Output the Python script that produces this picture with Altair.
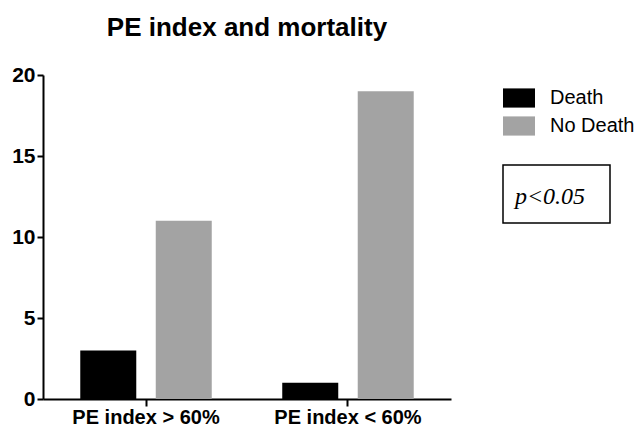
import altair as alt
import pandas as pd

groups = ["PE index > 60%", "PE index < 60%"]
outcomes = ["Death", "No Death"]
death = [3, 1]
no_death = [11, 19]
colors = ["#000000", "#a3a3a3"]
y_ticks = [0, 5, 10, 15, 20]
annotation = ["p<0.05"]

rows = []
for g, d, n in zip(groups, death, no_death):
    rows.append({"group": g, "outcome": outcomes[0], "count": d})
    rows.append({"group": g, "outcome": outcomes[1], "count": n})
df = pd.DataFrame(rows)

SANS = "Liberation Sans, Arial, sans-serif"

bars = alt.Chart(df).mark_bar(strokeWidth=0).encode(
    x=alt.X("group:N", sort=groups, title=None,
            scale=alt.Scale(paddingInner=0, paddingOuter=0.01),
            axis=alt.Axis(labelAngle=0, tickSize=7, tickWidth=2, tickColor="black",
                          domainWidth=2, domainColor="black",
                          labelFont=SANS, labelFontWeight="bold", labelFontSize=20,
                          labelColor="black", labelPadding=1)),
    xOffset=alt.XOffset("outcome:N", sort=outcomes,
                        scale=alt.Scale(paddingInner=0.258, paddingOuter=0.467)),
    y=alt.Y("count:Q", title=None, scale=alt.Scale(domain=[0, 20], nice=False),
            axis=alt.Axis(values=y_ticks, grid=False, tickSize=6, tickWidth=2,
                          tickColor="black", domainWidth=2, domainColor="black",
                          labelFont=SANS, labelFontWeight="bold", labelFontSize=21,
                          labelColor="black", labelPadding=2)),
    color=alt.Color("outcome:N", sort=outcomes,
                    scale=alt.Scale(domain=outcomes, range=colors),
                    legend=alt.Legend(title=None, orient="none", legendX=460, legendY=7,
                                      symbolType="M-1,-0.6H1V0.6H-1Z", symbolSize=1024,
                                      symbolStrokeWidth=0, labelFont=SANS,
                                      labelFontSize=20, labelOffset=15, rowPadding=2,
                                      padding=0, labelColor="black")),
)

ann_df = pd.DataFrame({"label": annotation})
box = alt.Chart(ann_df).mark_rect(fill="white", stroke="black", strokeWidth=1.5).encode(
    x=alt.value(460), x2=alt.value(567), y=alt.value(90), y2=alt.value(148)
)
ptext = alt.Chart(ann_df).mark_text(font="Liberation Serif", fontStyle="italic",
                                    fontSize=24, align="center", baseline="alphabetic",
                                    color="black").encode(
    x=alt.value(507), y=alt.value(129), text="label:N"
)

chart = alt.layer(bars, box, ptext).properties(
    width=408, height=324,
    title=alt.Title("PE index and mortality", font="Liberation Sans", fontSize=26,
                    fontWeight="bold", anchor="middle", color="black", dy=-19),
    padding={"left": 35, "top": 67, "right": 185, "bottom": 30},
    autosize=alt.AutoSizeParams(type="none"),
).configure_view(stroke=None)

chart.save("out.html", embed_options={"renderer": "svg", "actions": False})
